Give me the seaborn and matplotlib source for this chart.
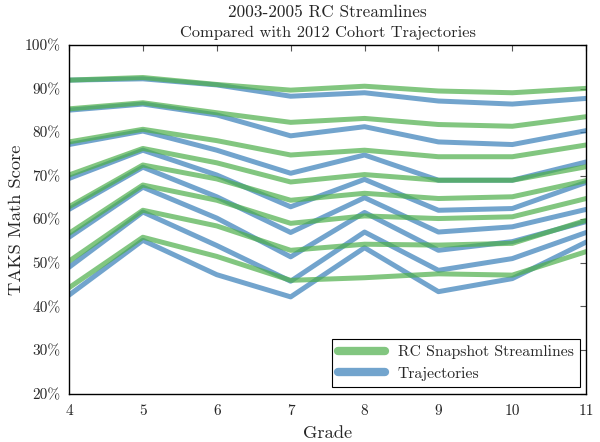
import matplotlib
matplotlib.use("Agg")
import matplotlib.pyplot as plt
import seaborn as sns
import pandas as pd
from matplotlib.lines import Line2D
from matplotlib.ticker import FuncFormatter

grades = [4, 5, 6, 7, 8, 9, 10, 11]

# RC Snapshot Streamlines (green), one list per cohort
stream_1 = [92.0, 92.6, 91.0, 89.7, 90.6, 89.5, 89.1, 90.1]
stream_2 = [85.4, 86.8, 84.5, 82.3, 83.2, 81.8, 81.4, 83.6]
stream_3 = [77.8, 80.7, 78.1, 74.8, 75.9, 74.4, 74.4, 77.1]
stream_4 = [70.2, 76.3, 73.0, 68.6, 70.3, 69.0, 69.0, 72.1]
stream_5 = [62.9, 72.5, 69.3, 64.4, 66.0, 64.8, 65.2, 68.9]
stream_6 = [56.8, 67.9, 64.4, 59.1, 60.8, 60.2, 60.6, 64.8]
stream_7 = [50.4, 62.1, 58.5, 52.9, 54.3, 54.1, 54.5, 59.8]
stream_8 = [44.3, 55.9, 51.5, 46.0, 46.6, 47.5, 47.2, 52.6]

# Trajectories (blue), one list per cohort
traj_1 = [92.0, 92.3, 90.9, 88.3, 89.1, 87.2, 86.5, 87.8]
traj_2 = [85.1, 86.5, 84.0, 79.2, 81.3, 77.8, 77.2, 80.4]
traj_3 = [77.2, 80.3, 75.9, 70.6, 74.8, 69.0, 69.0, 73.2]
traj_4 = [69.4, 75.9, 70.2, 62.9, 69.2, 62.1, 62.5, 68.5]
traj_5 = [62.3, 72.0, 65.2, 57.0, 65.0, 57.1, 58.3, 62.3]
traj_6 = [55.9, 67.4, 60.3, 51.4, 61.6, 52.9, 54.9, 59.5]
traj_7 = [49.0, 61.7, 54.0, 45.8, 57.1, 48.3, 51.0, 57.0]
traj_8 = [42.6, 55.2, 47.3, 42.2, 53.5, 43.4, 46.4, 54.8]

streamlines = [stream_1, stream_2, stream_3, stream_4, stream_5, stream_6, stream_7, stream_8]
trajectories = [traj_1, traj_2, traj_3, traj_4, traj_5, traj_6, traj_7, traj_8]

y_ticks = [20, 30, 40, 50, 60, 70, 80, 90, 100]

def to_long(series_list):
    rows = []
    for i, vals in enumerate(series_list):
        for g, v in zip(grades, vals):
            rows.append({"cohort": i, "grade": g, "score": v})
    return pd.DataFrame(rows)

df_stream = to_long(streamlines)
df_traj = to_long(trajectories)

sns.set_style("white")
plt.rcParams["font.family"] = ["serif"]
plt.rcParams["font.serif"] = ["cmr10", "DejaVu Serif"]
plt.rcParams["axes.formatter.use_mathtext"] = True
plt.rcParams["mathtext.fontset"] = "cm"

green = "#4daf4a"
blue = "#377eb8"
alpha = 0.7
lw = 3.6

fig = plt.figure(figsize=(6.0, 4.42), dpi=100)
ax = fig.add_axes([0.115, 0.1097, 0.862, 0.7878])

sns.lineplot(data=df_traj, x="grade", y="score", units="cohort", estimator=None,
             color=blue, alpha=alpha, linewidth=lw, ax=ax, legend=False)
sns.lineplot(data=df_stream, x="grade", y="score", units="cohort", estimator=None,
             color=green, alpha=alpha, linewidth=lw, ax=ax, legend=False)

ax.set_xlim(4, 11)
ax.set_ylim(20, 100)
ax.set_xticks(grades)
ax.set_xticklabels([str(g) for g in grades])
ax.set_yticks(y_ticks)
ax.yaxis.set_major_formatter(FuncFormatter(lambda v, p: f"{int(v)}%"))
ax.tick_params(direction="in", top=True, right=True, length=4, width=0.8,
               color="#555555", labelsize=11, pad=6)
ax.tick_params(axis="x", pad=8)
for s in ax.spines.values():
    s.set_color("black")
    s.set_linewidth(1.0)

ax.set_xlabel("Grade", fontsize=13.3, labelpad=5)
ax.set_ylabel("TAKS Math Score", fontsize=13.3, labelpad=0.5)

fig.text(0.546, 0.972, "2003-2005 RC Streamlines", ha="center", va="center", fontsize=12.4)
fig.text(0.546, 0.925, "Compared with 2012 Cohort Trajectories", ha="center", va="center", fontsize=11.8)

handles = [Line2D([0], [0], color=green, alpha=alpha, linewidth=6),
           Line2D([0], [0], color=blue, alpha=alpha, linewidth=6)]
leg = ax.legend(handles, ["RC Snapshot Streamlines", "Trajectories"], loc="lower right",
                fontsize=11.3, frameon=True, fancybox=False, edgecolor="black",
                framealpha=1, handlelength=3.0, borderaxespad=0.4)
leg.get_frame().set_linewidth(0.8)

fig.savefig("out.png", dpi=100)
